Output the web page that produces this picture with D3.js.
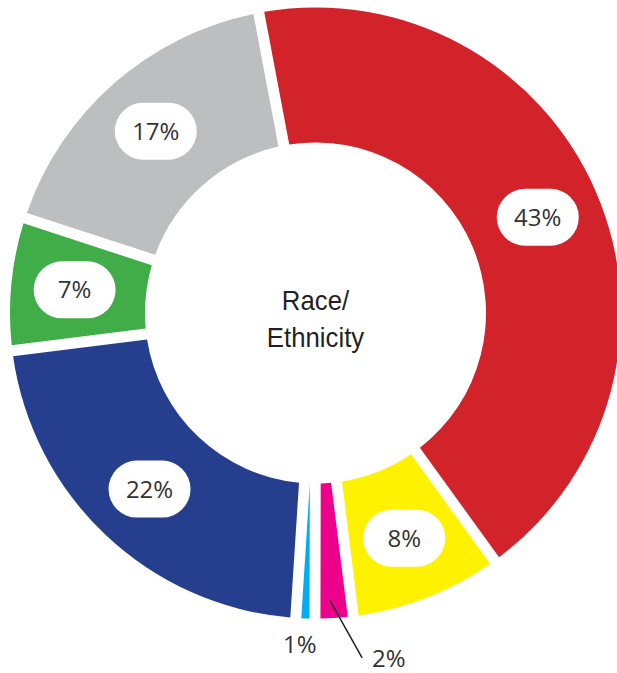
<!DOCTYPE html>
<html>
<head>
<meta charset="utf-8">
<script src="https://cdn.jsdelivr.net/npm/d3@7"></script>
<style>
  body { margin: 0; background: #fff; }
  svg { display: block; }
</style>
</head>
<body>
<div id="chart"></div>
<script>
// Chart size
var svgWidth = 617;
var svgHeight = 673;

// Data
var categories = ["Red", "Yellow", "Magenta", "Cyan", "Blue", "Green", "Gray"];
var values = [43, 8, 2, 1, 22, 7, 17];
var labels = ["43%", "8%", "2%", "1%", "22%", "7%", "17%"];
var colors = ["#d2232a", "#fff200", "#ec008c", "#00aeef", "#253f8e", "#41ad49", "#bcbec0"];
var centerLines = ["Race/", "Ethnicity"];

var cx = 315.5, cy = 313;
var outerR = 305.5, innerR = 170.5;
var start = -10.7 * Math.PI / 180;

var svg = d3.select("#chart")
  .append("svg")
  .attr("width", svgWidth)
  .attr("height", svgHeight);

var g = svg.append("g")
  .attr("transform", `translate(${cx}, ${cy})`);

var data = categories.map((c, i) => ({ cat: c, value: values[i], label: labels[i], color: colors[i] }));

var pie = d3.pie()
  .sort(null)
  .value(d => d.value)
  .startAngle(start)
  .endAngle(start + 2 * Math.PI);

var arcs = pie(data);

// constant-width white gaps between slices
var arc = d3.arc()
  .innerRadius(innerR)
  .outerRadius(outerR)
  .padRadius(300)
  .padAngle(11 / 300);

g.selectAll("path.slice")
  .data(arcs)
  .join("path")
  .attr("class", "slice")
  .attr("d", arc)
  .attr("fill", d => d.data.color);

// labels in white pills for the big slices
var labelArc = d3.arc().innerRadius(242).outerRadius(242);
var inside = arcs.filter(d => d.data.value >= 5);

var pills = g.selectAll("g.pill")
  .data(inside)
  .join("g")
  .attr("class", "pill")
  .attr("transform", d => `translate(${labelArc.centroid(d)})`);

pills.append("rect")
  .attr("x", -41)
  .attr("y", -28.5)
  .attr("width", 82)
  .attr("height", 57)
  .attr("rx", 28.5)
  .attr("fill", "#fff");

pills.append("text")
  .attr("text-anchor", "middle")
  .attr("dy", "0.36em")
  .attr("font-family", "'Open Sans', sans-serif")
  .attr("font-size", "24px")
  .attr("fill", "#333")
  .text(d => d.data.label);

// small slices: labels outside the ring
var outside = arcs.filter(d => d.data.value < 5);
var outSettings = { "Cyan": { r: 332, shift: 0.8 }, "Magenta": { r: 353, shift: -8.5 } };

function polar(r, a) {
  return [r * Math.sin(a), -r * Math.cos(a)];
}

outside.forEach(d => {
  var s = outSettings[d.data.cat];
  var mid = (d.startAngle + d.endAngle) / 2;
  var pos = polar(s.r, mid + s.shift * Math.PI / 180);
  g.append("text")
    .attr("x", pos[0])
    .attr("y", pos[1])
    .attr("text-anchor", "middle")
    .attr("dy", "0.36em")
    .attr("font-family", "'Open Sans', sans-serif")
    .attr("font-size", "24px")
    .attr("fill", "#333")
    .text(d.data.label);
  if (d.data.cat === "Magenta") {
    var p0 = polar(288, mid + 0.6 * Math.PI / 180);
    var p1 = polar(348, mid - 4.2 * Math.PI / 180);
    g.append("line")
      .attr("x1", p0[0]).attr("y1", p0[1])
      .attr("x2", p1[0]).attr("y2", p1[1])
      .attr("stroke", "#231f20")
      .attr("stroke-width", 1.5);
  }
});

// center title
g.append("text")
  .attr("text-anchor", "middle")
  .attr("transform", "scale(0.92, 1)")
  .attr("font-family", "'Liberation Sans', sans-serif")
  .attr("font-size", "28px")
  .attr("fill", "#231f20")
  .selectAll("tspan")
  .data(centerLines)
  .join("tspan")
  .attr("x", 0)
  .attr("y", (d, i) => -3 + i * 37)
  .text(d => d);
</script>
</body>
</html>
